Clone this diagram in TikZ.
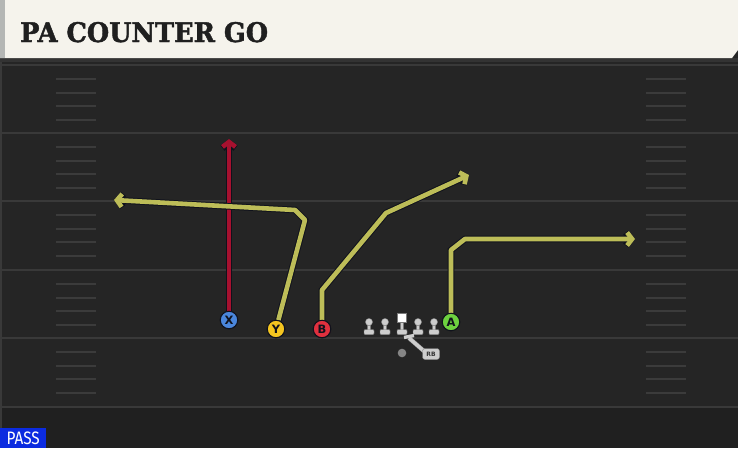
\documentclass[tikz,border=0pt]{standalone}
\usepackage{fontspec}
\newfontfamily\titlefont[BoldFeatures={FakeBold=1.6}]{DejaVu Serif}
\newfontfamily\labelfont{DejaVu Sans}
\newfontfamily\passfont{Fira Sans}
\usetikzlibrary{arrows.meta}

\definecolor{field}{HTML}{252525}
\definecolor{fieldlow}{HTML}{202020}
\definecolor{yardline}{HTML}{393939}
\definecolor{hashline}{HTML}{3B3B3B}
\definecolor{titlebg}{HTML}{F5F3EC}
\definecolor{titlestrip}{HTML}{B4B6B4}
\definecolor{routeyellow}{HTML}{BDBD58}
\definecolor{routered}{HTML}{A6112F}
\definecolor{routeedge}{HTML}{10121C}
\definecolor{xblue}{HTML}{4A86DC}
\definecolor{yyellow}{HTML}{F4C520}
\definecolor{bred}{HTML}{E0303E}
\definecolor{agreen}{HTML}{6DD13F}
\definecolor{manfill}{HTML}{CDCDCD}
\definecolor{mandraw}{HTML}{7A7A7A}
\definecolor{passblue}{HTML}{0B2BE0}

\tikzset{
  lineman/.pic={
    \fill[manfill, draw=mandraw, line width=0.4pt] (-1.6,2) rectangle (1.6,8);
    \fill[manfill, draw=mandraw, line width=0.4pt] (0,0) circle (3.6);
    \fill[manfill, draw=mandraw, line width=0.4pt, rounded corners=1pt] (-5,7.5) rectangle (5,12.5);
  },
  centerman/.pic={
    \fill[manfill, draw=mandraw, line width=0.4pt] (-1.6,3.5) rectangle (1.6,12);
    \fill[white, draw=mandraw, line width=0.4pt] (-4.5,-4.5) rectangle (4.5,4.5);
    \fill[manfill, draw=mandraw, line width=0.4pt, rounded corners=1pt] (-5,11.5) rectangle (5,16.5);
  }
}

\begin{document}
\begin{tikzpicture}[x=1pt, y=-1pt,
	yard/.style={draw=yardline, line width=1.6pt},
	hash/.style={draw=hashline, line width=1.3pt},
	route/.style={line width=4.6pt, line join=round,
		-{Straight Barb[length=5pt,width=13pt]},
		preaction={draw=routeedge, line width=6.6pt}},
	player/.style={circle, draw=routeedge, line width=1pt, minimum size=17.5pt, inner sep=0pt,
		font=\labelfont\bfseries\fontsize{11.5}{11.5}\selectfont, text=routeedge}]
	\useasboundingbox (0,0) rectangle (738,448);
	% field
	\fill[field] (0,0) rectangle (738,448);
	\fill[fieldlow] (0,407) rectangle (738,448);
	\fill[yardline] (0,60) rectangle (2,448);
	\foreach \y in {65,133,201,270,338,407}
		\draw[yard] (2,\y) -- (738,\y);
	\foreach \y in {65,133,201,270,338}
		\foreach \d in {14,28,41,55} {
			\draw[hash] (56,\y+\d) -- (96,\y+\d);
			\draw[hash] (646,\y+\d) -- (686,\y+\d);
		}
	% title bar
	\fill[black!80] (0,58) rectangle (738,62);
	\fill[titlebg] (0,0) -- (738,0) -- (738,50) -- (732,58) -- (0,58) -- cycle;
	\fill[titlestrip] (0,0) rectangle (5,58);
	\node[anchor=base west, inner sep=0pt, text=black!88,
		font=\titlefont\bfseries\fontsize{27}{27}\selectfont] (title) at (20,42)
		{\scalebox{0.95}[1]{PA COUNTER GO}};
	% players
	\node[player, fill=xblue] (X) at (229,320) {X};
	\node[player, fill=yyellow] (Y) at (276,329) {Y};
	\node[player, fill=bred] (B) at (322,329) {B};
	\node[player, fill=agreen] (A) at (451,322) {A};
	% route points
	\coordinate (xend) at (229,139);
	\coordinate (y1) at (305,220);
	\coordinate (y2) at (295,210);
	\coordinate (yend) at (114,200);
	\coordinate (b1) at (322,290);
	\coordinate (b2) at (386,213);
	\coordinate (bend) at (469,175);
	\coordinate (a1) at (451,250);
	\coordinate (a2) at (465,239);
	\coordinate (aend) at (635,239);
	% routes
	\draw[route, routered] (X) -- (xend);
	\draw[route, routeyellow] (Y) -- (y1) -- (y2) -- (yend);
	\draw[route, routeyellow] (B) -- (b1) -- (b2) -- (bend);
	\draw[route, routeyellow] (A) -- (a1) -- (a2) -- (aend);
	% redraw players above routes
	\node[player, fill=xblue] at (X) {X};
	\node[player, fill=yyellow] at (Y) {Y};
	\node[player, fill=bred] at (B) {B};
	\node[player, fill=agreen] at (A) {A};
	% line
	\pic (lt) at (369,322) {lineman};
	\pic (lg) at (385,322) {lineman};
	\pic (c) at (402,318) {centerman};
	\pic (rg) at (418,322) {lineman};
	\pic (rt) at (434,322) {lineman};
	% backfield
	\fill[manfill!65!black] (402,353) circle (4.3);
	\draw[mandraw, line width=4.4pt] (409,338) -- (425,352);
	\draw[manfill, line width=3.6pt] (409,338) -- (425,352);
	\draw[manfill, line width=3.4pt] (404,337.5) -- (414,335.5);
	\node[fill=manfill, draw=mandraw, line width=0.4pt, rounded corners=2.5pt, inner sep=1pt,
		minimum width=17pt, minimum height=11pt, text=black!80,
		font=\labelfont\bfseries\fontsize{6}{6}\selectfont] (rb) at (431,354) {RB};
	% label
	\node[fill=passblue, text=white, anchor=south west, inner sep=0pt,
		minimum width=46pt, minimum height=20pt,
		font=\passfont\fontsize{18}{18}\selectfont] (pass) at (0,448)
		{\scalebox{0.85}[1]{PASS}};
\end{tikzpicture}
\end{document}
